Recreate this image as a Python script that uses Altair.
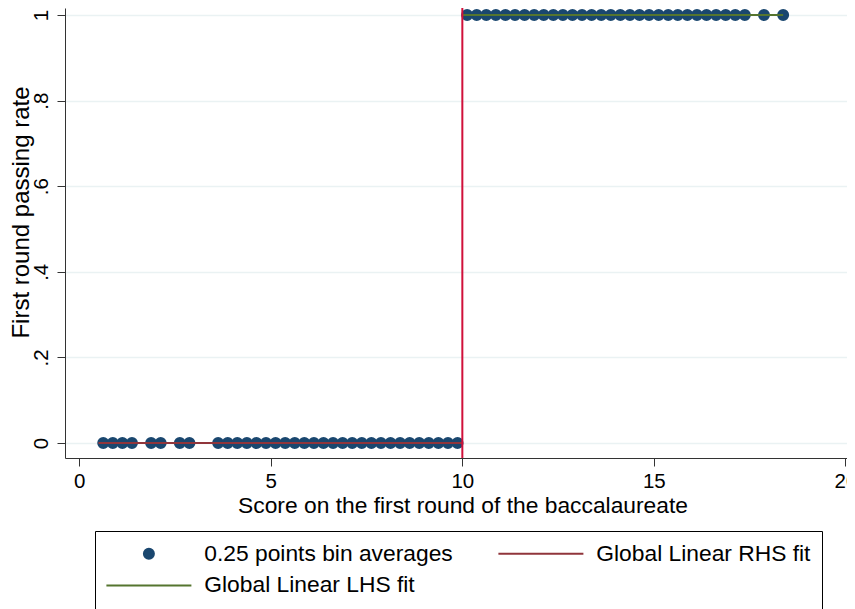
import altair as alt
import pandas as pd

# ---- data ----
# legend entries fill column by column: bin + LHS in the first column, RHS in the second
series_keys = ["s1", "s2", "s3"]
series_labels = ["0.25 points bin averages", "Global Linear LHS fit", "Global Linear RHS fit"]
series_colors = ["#1a476f", "#55752f", "#90353b"]

left_scores = [0.625, 0.875, 1.125, 1.375, 1.875, 2.125, 2.625, 2.875,
               3.625, 3.875, 4.125, 4.375, 4.625, 4.875, 5.125, 5.375,
               5.625, 5.875, 6.125, 6.375, 6.625, 6.875, 7.125, 7.375,
               7.625, 7.875, 8.125, 8.375, 8.625, 8.875, 9.125, 9.375,
               9.625, 9.875]
left_rates = [0, 0, 0, 0, 0, 0, 0, 0,
              0, 0, 0, 0, 0, 0, 0, 0,
              0, 0, 0, 0, 0, 0, 0, 0,
              0, 0, 0, 0, 0, 0, 0, 0,
              0, 0]
right_scores = [10.125, 10.375, 10.625, 10.875, 11.125, 11.375, 11.625, 11.875,
                12.125, 12.375, 12.625, 12.875, 13.125, 13.375, 13.625, 13.875,
                14.125, 14.375, 14.625, 14.875, 15.125, 15.375, 15.625, 15.875,
                16.125, 16.375, 16.625, 16.875, 17.125, 17.375, 17.875, 18.375]
right_rates = [1, 1, 1, 1, 1, 1, 1, 1,
               1, 1, 1, 1, 1, 1, 1, 1,
               1, 1, 1, 1, 1, 1, 1, 1,
               1, 1, 1, 1, 1, 1, 1, 1]

rhs_fit_x = [0.5, 10.0]
rhs_fit_y = [0.0, 0.0]
lhs_fit_x = [10.0, 18.375]
lhs_fit_y = [1.0, 1.0]
cutoff = [10.0]

x_ticks = [0, 5, 10, 15, 20]
y_ticks = [0, 0.2, 0.4, 0.6, 0.8, 1]

# ---- tables ----
pts = pd.DataFrame({
    "score": left_scores + right_scores,
    "rate": left_rates + right_rates,
    "series": series_keys[0],
})
fits = pd.concat([
    pd.DataFrame({"score": rhs_fit_x, "rate": rhs_fit_y, "series": series_keys[2]}),
    pd.DataFrame({"score": lhs_fit_x, "rate": lhs_fit_y, "series": series_keys[1]}),
])
cut = pd.DataFrame({"score": cutoff})

FONT = "Liberation Sans"
circle_path = "M-0.5,0A0.5,0.5,0,1,0,0.5,0A0.5,0.5,0,1,0,-0.5,0Z"
line_path = "M-4.25,0L4.25,0"

color_scale = alt.Scale(domain=series_keys, range=series_colors)
shape_scale = alt.Scale(domain=series_keys, range=[circle_path, line_path, line_path])

label_expr = " : ".join(
    f"datum.value == '{k}' ? '{lab}'" for k, lab in zip(series_keys, series_labels)
) + " : datum.value"

legend = alt.Legend(
    orient="none", legendX=30, legendY=523, columns=2, labelExpr=label_expr,
    symbolSize=400, symbolStrokeWidth=2, symbolOpacity=1, symbolOffset=31.5,
    labelFontSize=22.8, labelFont=FONT, labelColor="black", labelLimit=600,
    labelOffset=44, columnPadding=41, rowPadding=8, padding=11,
    strokeColor="black", fillColor="white",
)

x_scale = alt.Scale(domain=[-0.373, 20.042], nice=False, zero=False)
y_scale = alt.Scale(domain=[-0.0351, 1.0164], nice=False, zero=False)

x_axis = alt.Axis(
    values=x_ticks, grid=False, tickSize=8, tickColor="#333333", domainColor="#333333",
    labelFontSize=20.5, labelFont=FONT, labelColor="black", labelPadding=5,
    labelFlush=False, labelOverlap=False,
    title="Score on the first round of the baccalaureate",
    titleFontSize=22.8, titleFont=FONT, titleFontWeight="normal", titleColor="black",
    titleX=397.5, titleY=54, titleBaseline="alphabetic", titleAlign="center",
)
y_axis = alt.Axis(
    values=y_ticks, grid=True, gridColor="#eaf2f3", gridWidth=1.5,
    tickSize=8, tickColor="#333333", domainColor="#333333",
    labelAngle=270, labelAlign="center", labelBaseline="alphabetic", labelPadding=10,
    labelFontSize=20.5, labelFont=FONT, labelColor="black", labelFlush=False, labelOverlap=False,
    labelExpr="datum.value == 0 ? '0' : datum.value == 1 ? '1' : replace(format(datum.value, '.1f'), '0.', '.')",
    title="First round passing rate",
    titleFontSize=24, titleFont=FONT, titleFontWeight="normal", titleColor="black",
    titleAngle=270, titleX=-36.5, titleY=204, titleBaseline="alphabetic", titleAlign="center",
)

points = alt.Chart(pts).mark_point(
    filled=True, size=400, strokeWidth=2, opacity=1, stroke=series_colors[0]
).encode(
    x=alt.X("score:Q", scale=x_scale, axis=x_axis),
    y=alt.Y("rate:Q", scale=y_scale, axis=y_axis),
    fill=alt.Fill("series:N", scale=color_scale, legend=legend, title=None),
    shape=alt.Shape("series:N", scale=shape_scale, legend=legend, title=None),
)

lines = alt.Chart(fits).mark_line(strokeWidth=2).encode(
    x=alt.X("score:Q", scale=x_scale, axis=x_axis),
    y=alt.Y("rate:Q", scale=y_scale, axis=y_axis),
    stroke=alt.Stroke("series:N", scale=color_scale, legend=legend, title=None),
)

rule = alt.Chart(cut).mark_rule(color="#d0103a", strokeWidth=2).encode(
    x=alt.X("score:Q", scale=x_scale, axis=x_axis),
)

chart = alt.layer(points, lines, rule).properties(
    width=782, height=450,
    autosize=alt.AutoSizeParams(type="none"),
    padding={"left": 57, "top": 0, "right": 0, "bottom": 151},
    background="white",
).configure_view(strokeWidth=0).configure_legend(strokeWidth=1, cornerRadius=0)

chart.save("out.html", embed_options={"renderer": "svg", "actions": False})
